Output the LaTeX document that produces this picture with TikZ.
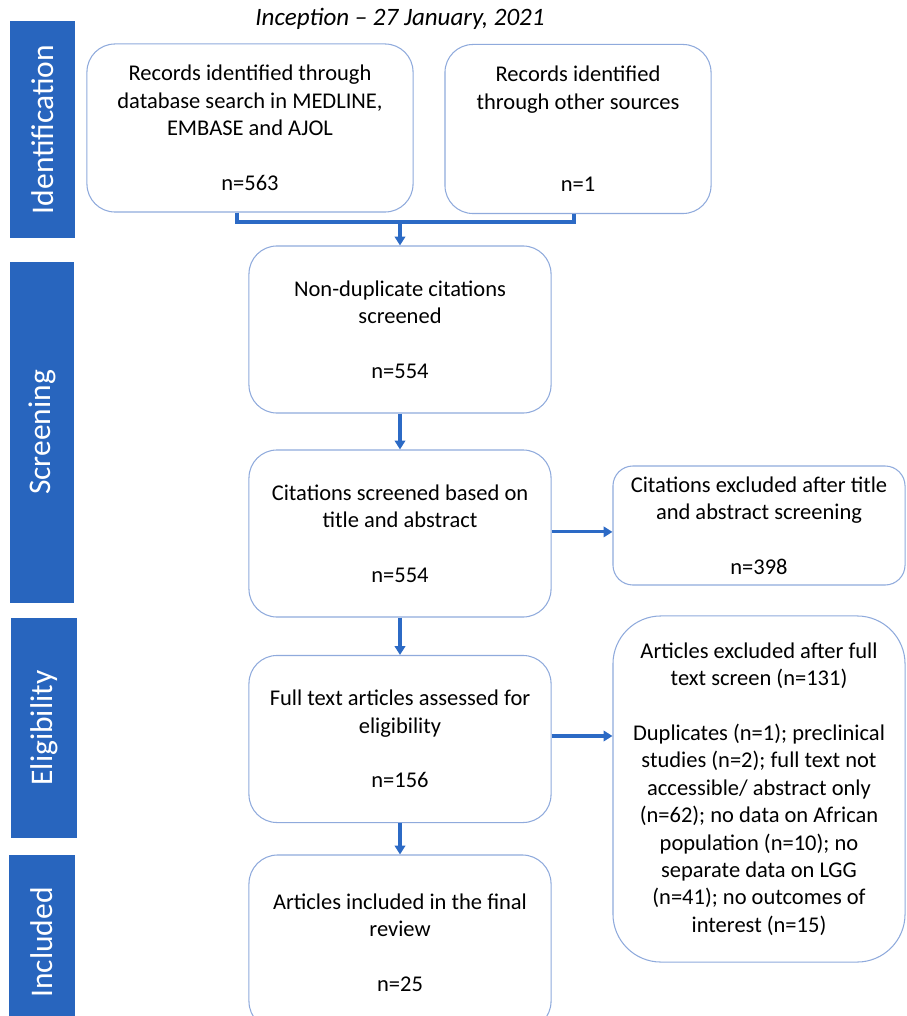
\documentclass[tikz,border=0pt]{standalone}
\usepackage{fontspec}
\setmainfont{Carlito}
\usetikzlibrary{arrows.meta}
\definecolor{prblue}{RGB}{40,101,190}
\definecolor{prarrow}{RGB}{44,106,197}
\definecolor{prline}{RGB}{143,170,220}

\begin{document}
\begin{tikzpicture}[x=0.025cm,y=-0.025cm,
  box/.style={draw=prline,line width=0.75pt,align=center,inner sep=0pt,
    font=\fontsize{16}{19.5}\selectfont,minimum width=7.55cm,minimum height=4.175cm,
    rounded corners=0.7cm},
  phase/.style={fill=prblue,text=white,rotate=90,inner sep=0pt,minimum height=1.6cm,
    font=\fontsize{22.4}{27}\selectfont},
  arr/.style={prarrow,line width=2.2pt,-{Triangle[width=0.26cm,length=0.22cm]}},
  link/.style={prarrow,line width=2.2pt}]
\useasboundingbox (0,0) rectangle (906,1016);

% Title
\node[font=\fontsize{17.8}{21}\selectfont\itshape] (title) at (400,19) {Inception – 27 January, 2021};

% Phases
\node[phase,minimum width=5.425cm] (ident) at (42.5,129.5) {Identification};
\node[phase,minimum width=8.525cm] (screen) at (42,432.5) {Screening};
\node[phase,minimum width=5.5cm,minimum height=1.65cm] (elig) at (44,728) {Eligibility};
\node[phase,minimum width=4.375cm,minimum height=1.65cm] (inclph) at (42,942.5) {Included};

% Boxes
\node[box,minimum width=8.15cm,minimum height=4.2cm] (recA) at (250,128)
  {Records identified through\\database search in MEDLINE,\\EMBASE and AJOL\\[19.5pt]n=563};
\node[box,minimum width=6.65cm,minimum height=4.225cm] (recB) at (578,129)
  {Records identified\\through other sources\\[39pt]n=1};
\node[box] (nondup) at (400,329.5) {Non-duplicate citations\\screened\\[19.5pt]n=554};
\node[box] (screened) at (400,533.5) {Citations screened based on\\title and abstract\\[19.5pt]n=554};
\node[box,minimum width=7.3cm,minimum height=2.975cm,rounded corners=0.5cm] (exclA) at (759,525.5)
  {Citations excluded after title\\and abstract screening\\[19.5pt]n=398};
\node[box] (fulltext) at (400,739) {Full text articles assessed for\\eligibility\\[19.5pt]n=156};
\node[box,minimum width=7.3cm,minimum height=8.65cm,rounded corners=1.2cm] (exclB) at (759,789)
  {Articles excluded after full\\text screen (n=131)\\[19.5pt]Duplicates (n=1); preclinical\\studies (n=2); full text not\\accessible/ abstract only\\(n=62); no data on African\\population (n=10); no\\separate data on LGG\\(n=41); no outcomes of\\interest (n=15)};
\node[box,minimum height=4.375cm,rounded corners=0.72cm] (incl) at (400,942.5)
  {Articles included in the final\\review\\[19.5pt]n=25};

% Connectors
\coordinate (join) at (400,222);
\draw[link] ([xshift=-0.325cm]recA.south) |- (join) -| ([xshift=-0.1cm]recB.south);
\draw[arr] (join) -- (nondup.north);
\draw[arr] (nondup) -- (screened);
\draw[arr] ([yshift=0.04cm]screened.east) -- ([yshift=0.04cm]screened.east -| exclA.west);
\draw[arr] (screened) -- (fulltext);
\draw[arr] ([yshift=0.075cm]fulltext.east) -- ([yshift=0.075cm]fulltext.east -| exclB.west);
\draw[arr] (fulltext) -- (incl);
\end{tikzpicture}
\end{document}
